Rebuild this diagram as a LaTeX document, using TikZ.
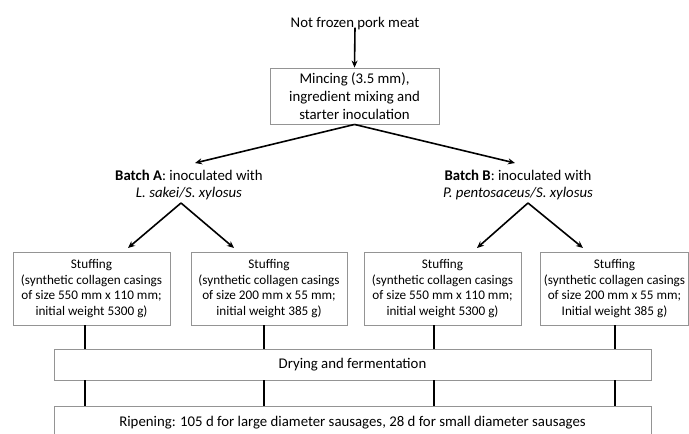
\documentclass[tikz,border=0pt]{standalone}
\usepackage{fontspec}
\setmainfont{Carlito}
\usetikzlibrary{arrows.meta}
\begin{document}
\begin{tikzpicture}[x=1pt,y=-1pt,
  boxgray/.style={draw=black!42,line width=0.9pt,inner sep=0pt,align=center},
  bigtxt/.style={font=\fontsize{14.8}{18}\selectfont},
  smalltxt/.style={font=\fontsize{13.2}{15.7}\selectfont},
  arr/.style={line width=1.6pt,-{Stealth[length=7pt,width=6pt]}},
  vline/.style={line width=1.8pt}]
\useasboundingbox (0,0) rectangle (689,434);
% nodes
\node[bigtxt,inner sep=0pt] (src) at (355,24) {Not frozen pork meat};
\node[boxgray,bigtxt,minimum width=169pt,minimum height=56pt] (mince) at (354.5,96)
  {Mincing (3.5 mm),\\ingredient mixing and\\starter inoculation};
\node[font=\fontsize{14.8}{17}\selectfont,inner sep=0pt,align=center] (batA) at (189,184.5)
  {\textbf{Batch A}: inoculated with\\\textit{L. sakei/S. xylosus}};
\node[font=\fontsize{14.8}{17}\selectfont,inner sep=0pt,align=center] (batB) at (518,184.5)
  {\textbf{Batch B}: inoculated with\\\textit{P. pentosaceus/S. xylosus}};
\node[boxgray,smalltxt,minimum width=157pt,minimum height=73pt] (s1) at (91.5,288.5)
  {Stuffing\\(synthetic collagen casings\\of size 550 mm x 110 mm;\\initial weight 5300 g)};
\node[boxgray,smalltxt,minimum width=156pt,minimum height=73pt] (s2) at (269,288.5)
  {Stuffing\\(synthetic collagen casings\\of size 200 mm x 55 mm;\\initial weight 385 g)};
\node[boxgray,smalltxt,minimum width=157pt,minimum height=73pt] (s3) at (442.5,288.5)
  {Stuffing\\(synthetic collagen casings\\of size 550 mm x 110 mm;\\initial weight 5300 g)};
\node[boxgray,smalltxt,minimum width=148pt,minimum height=73pt] (s4) at (614.5,288.5)
  {Stuffing\\(synthetic collagen casings\\of size 200 mm x 55 mm;\\Initial weight 385 g)};
\node[boxgray,bigtxt,minimum width=597pt,minimum height=31pt] (dry) at (352.5,364.5)
  {Drying and fermentation};
\node[boxgray,bigtxt,minimum width=597pt,minimum height=34pt] (rip) at (352.5,423)
  {Ripening: 105 d for large diameter sausages, 28 d for small diameter sausages};
% coordinates
\coordinate (tipA) at (195,163);
\coordinate (tipB) at (515,163);
\coordinate (apA) at (181,203);
\coordinate (apB) at (528,203);
\coordinate (t1) at (128,248);
\coordinate (t2) at (234,248);
\coordinate (t3) at (477,248);
\coordinate (t4) at (583,248);
\coordinate (v1) at (85,0);
\coordinate (v2) at (264,0);
\coordinate (v3) at (434,0);
\coordinate (v4) at (615,0);
% connectors
\draw[arr] (src.south) ++(0,3pt) -- (mince.north);
\draw[arr] (mince.south) -- (tipA);
\draw[arr] (mince.south) -- (tipB);
\draw[arr] (apA) -- (t1);
\draw[arr] (apA) -- (t2);
\draw[arr] (apB) -- (t3);
\draw[arr] (apB) -- (t4);
\draw[vline] (s1.south -| v1) -- (dry.north -| v1);
\draw[vline] (s2.south -| v2) -- (dry.north -| v2);
\draw[vline] (s3.south -| v3) -- (dry.north -| v3);
\draw[vline] (s4.south -| v4) -- (dry.north -| v4);
\draw[vline] (dry.south -| v1) -- (rip.north -| v1);
\draw[vline] (dry.south -| v2) -- (rip.north -| v2);
\draw[vline] (dry.south -| v3) -- (rip.north -| v3);
\draw[vline] (dry.south -| v4) -- (rip.north -| v4);
\end{tikzpicture}
\end{document}
